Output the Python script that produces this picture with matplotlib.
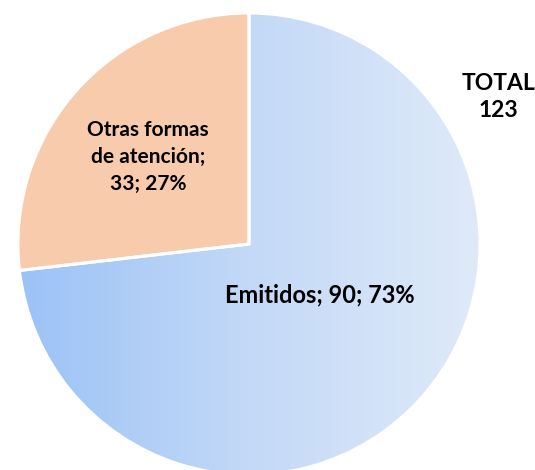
import numpy as np
import matplotlib.pyplot as plt
from matplotlib.colors import LinearSegmentedColormap

# datos
categorias = ['Otras formas\nde atención', 'Emitidos']
valores = [33, 90]
total = sum(valores)

W, H = 535, 470
fig = plt.figure(figsize=(W / 100, H / 100), dpi=100)
ax = fig.add_axes([0, 0, 1, 1])

cx, cy, r = 249, H - 244, 231
wedges, _ = ax.pie(valores, startangle=90, counterclock=True,
                   center=(cx, cy), radius=r, explode=[0.03, 0],
                   colors=['#F8CBAD', 'none'], frame=True,
                   wedgeprops=dict(edgecolor='white', linewidth=2.2))
ax.set_xlim(0, W)
ax.set_ylim(0, H)
ax.set_aspect('equal')
ax.axis('off')

# degradado horizontal para "Emitidos"
cmap = LinearSegmentedColormap.from_list('azul', ['#9BC2F6', '#C3D9F7', '#DFEAF9'])
grad = np.linspace(0, 1, 256).reshape(1, -1)
img = ax.imshow(grad, cmap=cmap, aspect='auto', zorder=0.5,
                extent=[cx - r, cx + r, cy - r, cy + r])
img.set_clip_path(wedges[1])
wedges[1].set_zorder(1)

fuente = 'Lato'
ax.text(320, H - 295, f'{categorias[1]}; {valores[1]}; {valores[1] / total:.0%}',
        ha='center', va='center', fontsize=17, fontweight='bold', family=fuente)
ax.text(148, H - 157, f'{categorias[0]};\n{valores[0]}; {valores[0] / total:.0%}',
        ha='center', va='center', fontsize=15, fontweight='bold', family=fuente,
        linespacing=1.42)
ax.text(498, H - 97, f'TOTAL\n{total}', ha='center', va='center', fontsize=16.5,
        fontweight='bold', family=fuente, linespacing=1.33)

fig.savefig('out.png', dpi=100)
